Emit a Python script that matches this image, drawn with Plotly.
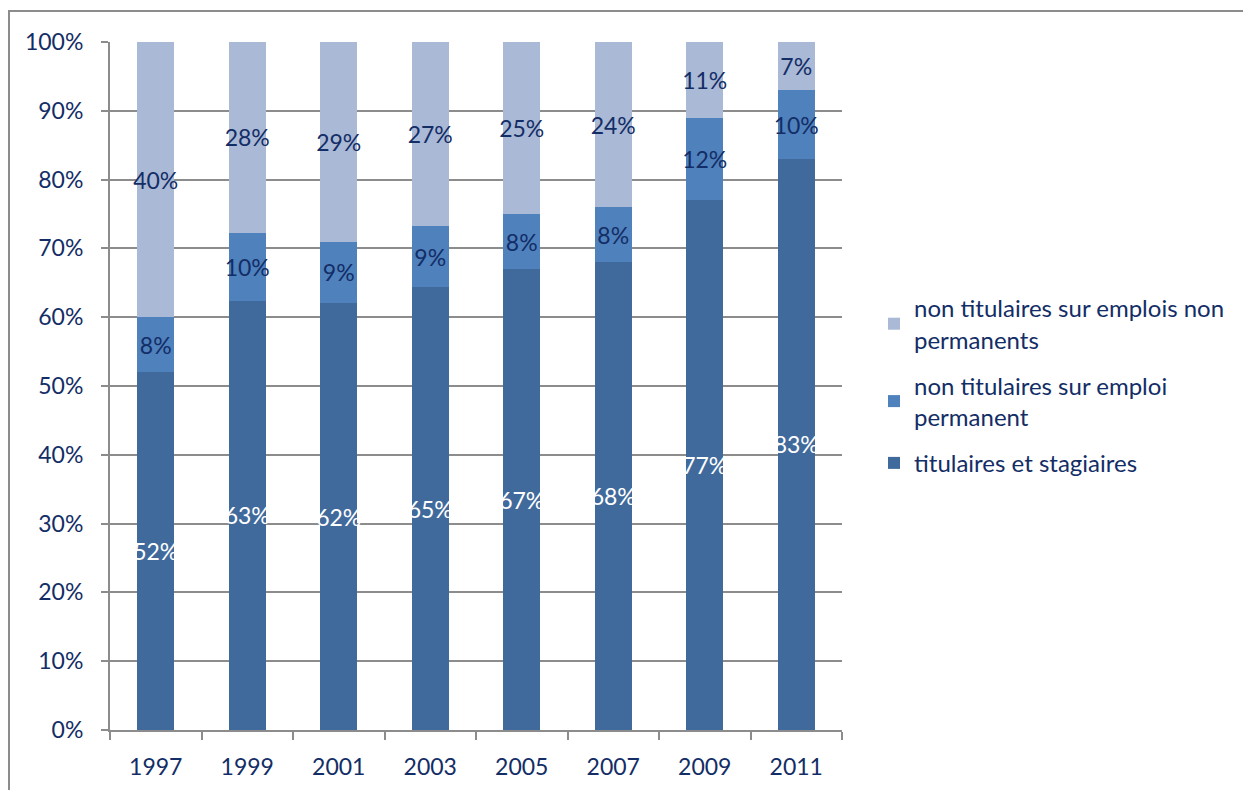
import plotly.graph_objects as go

years = ["1997", "1999", "2001", "2003", "2005", "2007", "2009", "2011"]
titulaires = [52, 63, 62, 65, 67, 68, 77, 83]
nt_permanent = [8, 10, 9, 9, 8, 8, 12, 10]
nt_non_permanent = [40, 28, 29, 27, 25, 24, 11, 7]

# (legend name, values, bar colour, label colour, legend rank)
series = [
    ("titulaires et stagiaires", titulaires, "#416A9C", "#FFFFFF", 3),
    ("non titulaires sur emploi<br>permanent", nt_permanent, "#4F81BD", "#132D66", 2),
    ("non titulaires sur emplois non<br>permanents", nt_non_permanent, "#AAB9D6", "#132D66", 1),
]

FONT = "Lato, 'Open Sans', sans-serif"
TEXT = "#132D66"
GRID = "#8C8C8C"

fig = go.Figure()
for i, (name, vals, color, tcolor, rank) in enumerate(series):
    fig.add_trace(go.Bar(
        x=years, y=vals, name=name,
        marker=dict(color=color, line=dict(width=0)),
        text=[f"{v}%" for v in vals],
        textposition="inside", insidetextanchor="middle",
        textangle=0, constraintext="none",
        textfont=dict(family=FONT, size=23, color=tcolor),
        legendgroup=f"g{i}", legendrank=rank,
        hoverinfo="skip",
    ))

fig.update_layout(
    width=1243, height=790,
    barmode="stack", barnorm="percent", bargap=0.6,
    paper_bgcolor="white", plot_bgcolor="white",
    margin=dict(l=110, r=401, t=42, b=60, autoexpand=False),
    font=dict(family=FONT, size=23, color=TEXT),
    showlegend=True,
    legend=dict(
        x=(874 - 110) / 732, y=(730 - 286) / 688, xanchor="left", yanchor="top",
        traceorder="grouped", tracegroupgap=12,
        font=dict(family=FONT, size=24, color=TEXT),
        itemwidth=30, bgcolor="rgba(0,0,0,0)",
    ),
    xaxis=dict(
        type="category", showgrid=False,
        showline=True, linecolor=GRID, linewidth=2,
        ticks="outside", tickson="boundaries", ticklen=8, tickcolor=GRID, tickwidth=2,
        tickfont=dict(family=FONT, size=23, color=TEXT),
        ticklabelstandoff=15,
    ),
    yaxis=dict(
        range=[0, 100], dtick=10, ticksuffix="%",
        showgrid=True, gridcolor=GRID, gridwidth=1.5,
        showline=True, linecolor=GRID, linewidth=2,
        ticks="outside", ticklen=7, tickcolor=GRID, tickwidth=2,
        tickfont=dict(family=FONT, size=23, color=TEXT),
        ticklabelstandoff=13, zeroline=False,
    ),
    shapes=[dict(
        type="rect", xref="paper", yref="paper",
        x0=(9 - 110) / 732, x1=(1260 - 110) / 732,
        y0=(730 - 810) / 688, y1=(730 - 11) / 688,
        line=dict(color="#8C8C8C", width=2), fillcolor="rgba(0,0,0,0)",
        layer="below",
    )],
)

fig.write_html("out.html")
